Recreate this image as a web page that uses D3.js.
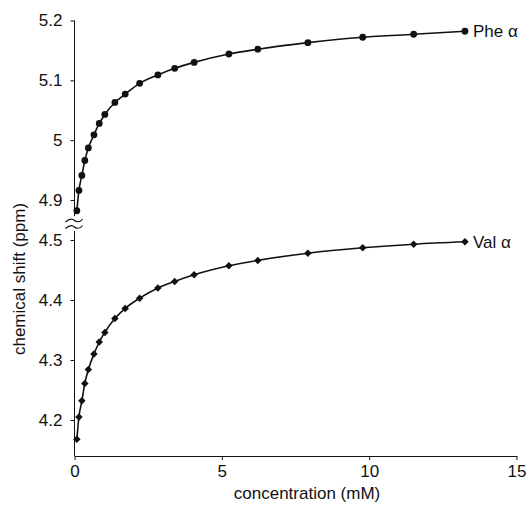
<!DOCTYPE html>
<html>
<head>
<meta charset="utf-8">
<script src="https://cdn.jsdelivr.net/npm/d3@7"></script>
<style>
  body { margin: 0; background: #fff; }
  svg text { font-family: Arial, "Liberation Sans", Helvetica, sans-serif; fill: #111; }
  .axis path, .axis line { stroke: #111; }
</style>
</head>
<body>
<div id="chart"></div>
<script>
// Data
var concentration = [0.08, 0.15, 0.25, 0.35, 0.47, 0.66, 0.84, 1.03, 1.37, 1.72,
                     2.21, 2.83, 3.40, 4.06, 5.24, 6.22, 7.92, 9.78, 11.51, 13.25];
var pheShift = [4.882, 4.916, 4.941, 4.966, 4.987, 5.009, 5.028, 5.043, 5.063, 5.077,
                5.095, 5.109, 5.120, 5.130, 5.144, 5.152, 5.163, 5.172, 5.177, 5.182];
var valShift = [4.168, 4.205, 4.232, 4.261, 4.284, 4.310, 4.330, 4.346, 4.369, 4.386,
                4.403, 4.420, 4.431, 4.442, 4.457, 4.466, 4.478, 4.487, 4.493, 4.497];
var xTicks = [0, 5, 10, 15];
var yTopTicks = [4.9, 5.0, 5.1, 5.2];
var yBotTicks = [4.2, 4.3, 4.4, 4.5];
var seriesNames = ["Phe α", "Val α"];

var width = 527, height = 519;
var fontSize = "17px";

var svg = d3.select("#chart")
  .append("svg")
  .attr("width", width)
  .attr("height", height);

// Scales (broken y axis: upper and lower part)
var xScale = d3.scaleLinear().domain([0, 15]).range([74.5, 516.5]);
var yTop = d3.scaleLinear().domain([4.9, 5.2]).range([200, 20.5]);
var yBot = d3.scaleLinear().domain([4.14, 4.5]).range([456, 240]);

var fmt = function(d) { return +d.toFixed(1); };

// x axis
var xAxis = svg.append("g")
  .attr("class", "axis")
  .attr("transform", "translate(0," + yBot(4.14) + ")")
  .call(d3.axisBottom(xScale).tickValues(xTicks).tickSize(4).tickSizeOuter(0).tickPadding(5));
xAxis.selectAll("text").style("font-size", fontSize);

// upper y axis
var axTop = svg.append("g")
  .attr("class", "axis")
  .attr("transform", "translate(" + xScale(0) + ",0)")
  .call(d3.axisLeft(yTop).tickValues(yTopTicks).tickFormat(fmt).tickSize(4).tickPadding(8));
axTop.select(".domain").remove();
axTop.selectAll("text").style("font-size", fontSize);

// lower y axis
var axBot = svg.append("g")
  .attr("class", "axis")
  .attr("transform", "translate(" + xScale(0) + ",0)")
  .call(d3.axisLeft(yBot).tickValues(yBotTicks).tickFormat(fmt).tickSize(4).tickPadding(8));
axBot.select(".domain").remove();
axBot.selectAll("text").style("font-size", fontSize);

// axis lines with the break
svg.append("line")
  .attr("x1", xScale(0)).attr("x2", xScale(0))
  .attr("y1", yTop(5.2)).attr("y2", yTop(4.873))
  .attr("stroke", "#111");
svg.append("line")
  .attr("x1", xScale(0)).attr("x2", xScale(0))
  .attr("y1", yBot(4.515)).attr("y2", yBot(4.14))
  .attr("stroke", "#111");

[220.5, 227].forEach(function(yy) {
  var x0 = xScale(0);
  svg.append("path")
    .attr("d", "M" + (x0 - 9) + "," + (yy + 1.5) +
               " C" + (x0 - 4) + "," + (yy - 3) + " " + (x0 - 1) + "," + (yy - 1) + " " + x0 + "," + yy +
               " S" + (x0 + 5) + "," + (yy + 3) + " " + (x0 + 8) + "," + (yy - 1.5))
    .attr("fill", "none")
    .attr("stroke", "#111")
    .attr("stroke-width", 1.1);
});

// axis titles
svg.append("text")
  .attr("x", 307)
  .attr("y", 499)
  .attr("text-anchor", "middle")
  .style("font-size", fontSize)
  .text("concentration (mM)");

svg.append("text")
  .attr("transform", "translate(25,279) rotate(-90)")
  .attr("text-anchor", "middle")
  .style("font-size", fontSize)
  .text("chemical shift (ppm)");

// series
var pheData = concentration.map(function(c, i) { return {x: c, y: pheShift[i]}; });
var valData = concentration.map(function(c, i) { return {x: c, y: valShift[i]}; });

var lineTop = d3.line()
  .x(function(d) { return xScale(d.x); })
  .y(function(d) { return yTop(d.y); })
  .curve(d3.curveMonotoneX);
var lineBot = d3.line()
  .x(function(d) { return xScale(d.x); })
  .y(function(d) { return yBot(d.y); })
  .curve(d3.curveMonotoneX);

svg.append("path")
  .datum(pheData)
  .attr("d", lineTop)
  .attr("fill", "none")
  .attr("stroke", "#111")
  .attr("stroke-width", 1.6);

svg.append("path")
  .datum(valData)
  .attr("d", lineBot)
  .attr("fill", "none")
  .attr("stroke", "#111")
  .attr("stroke-width", 1.6);

svg.selectAll("circle.phe")
  .data(pheData)
  .enter()
  .append("circle")
  .attr("class", "phe")
  .attr("cx", function(d) { return xScale(d.x); })
  .attr("cy", function(d) { return yTop(d.y); })
  .attr("r", 3.4)
  .attr("fill", "#111");

var diamond = d3.symbol().type(d3.symbolSquare).size(28);
svg.selectAll("path.val")
  .data(valData)
  .enter()
  .append("path")
  .attr("class", "val")
  .attr("d", diamond)
  .attr("transform", function(d) {
    return "translate(" + xScale(d.x) + "," + yBot(d.y) + ") rotate(45)";
  })
  .attr("fill", "#111");

// series labels at the last point
var last = concentration.length - 1;
svg.append("text")
  .attr("x", xScale(concentration[last]) + 8)
  .attr("y", yTop(pheShift[last]))
  .attr("dy", "0.35em")
  .style("font-size", fontSize)
  .text(seriesNames[0]);
svg.append("text")
  .attr("x", xScale(concentration[last]) + 8)
  .attr("y", yBot(valShift[last]))
  .attr("dy", "0.35em")
  .style("font-size", fontSize)
  .text(seriesNames[1]);
</script>
</body>
</html>
